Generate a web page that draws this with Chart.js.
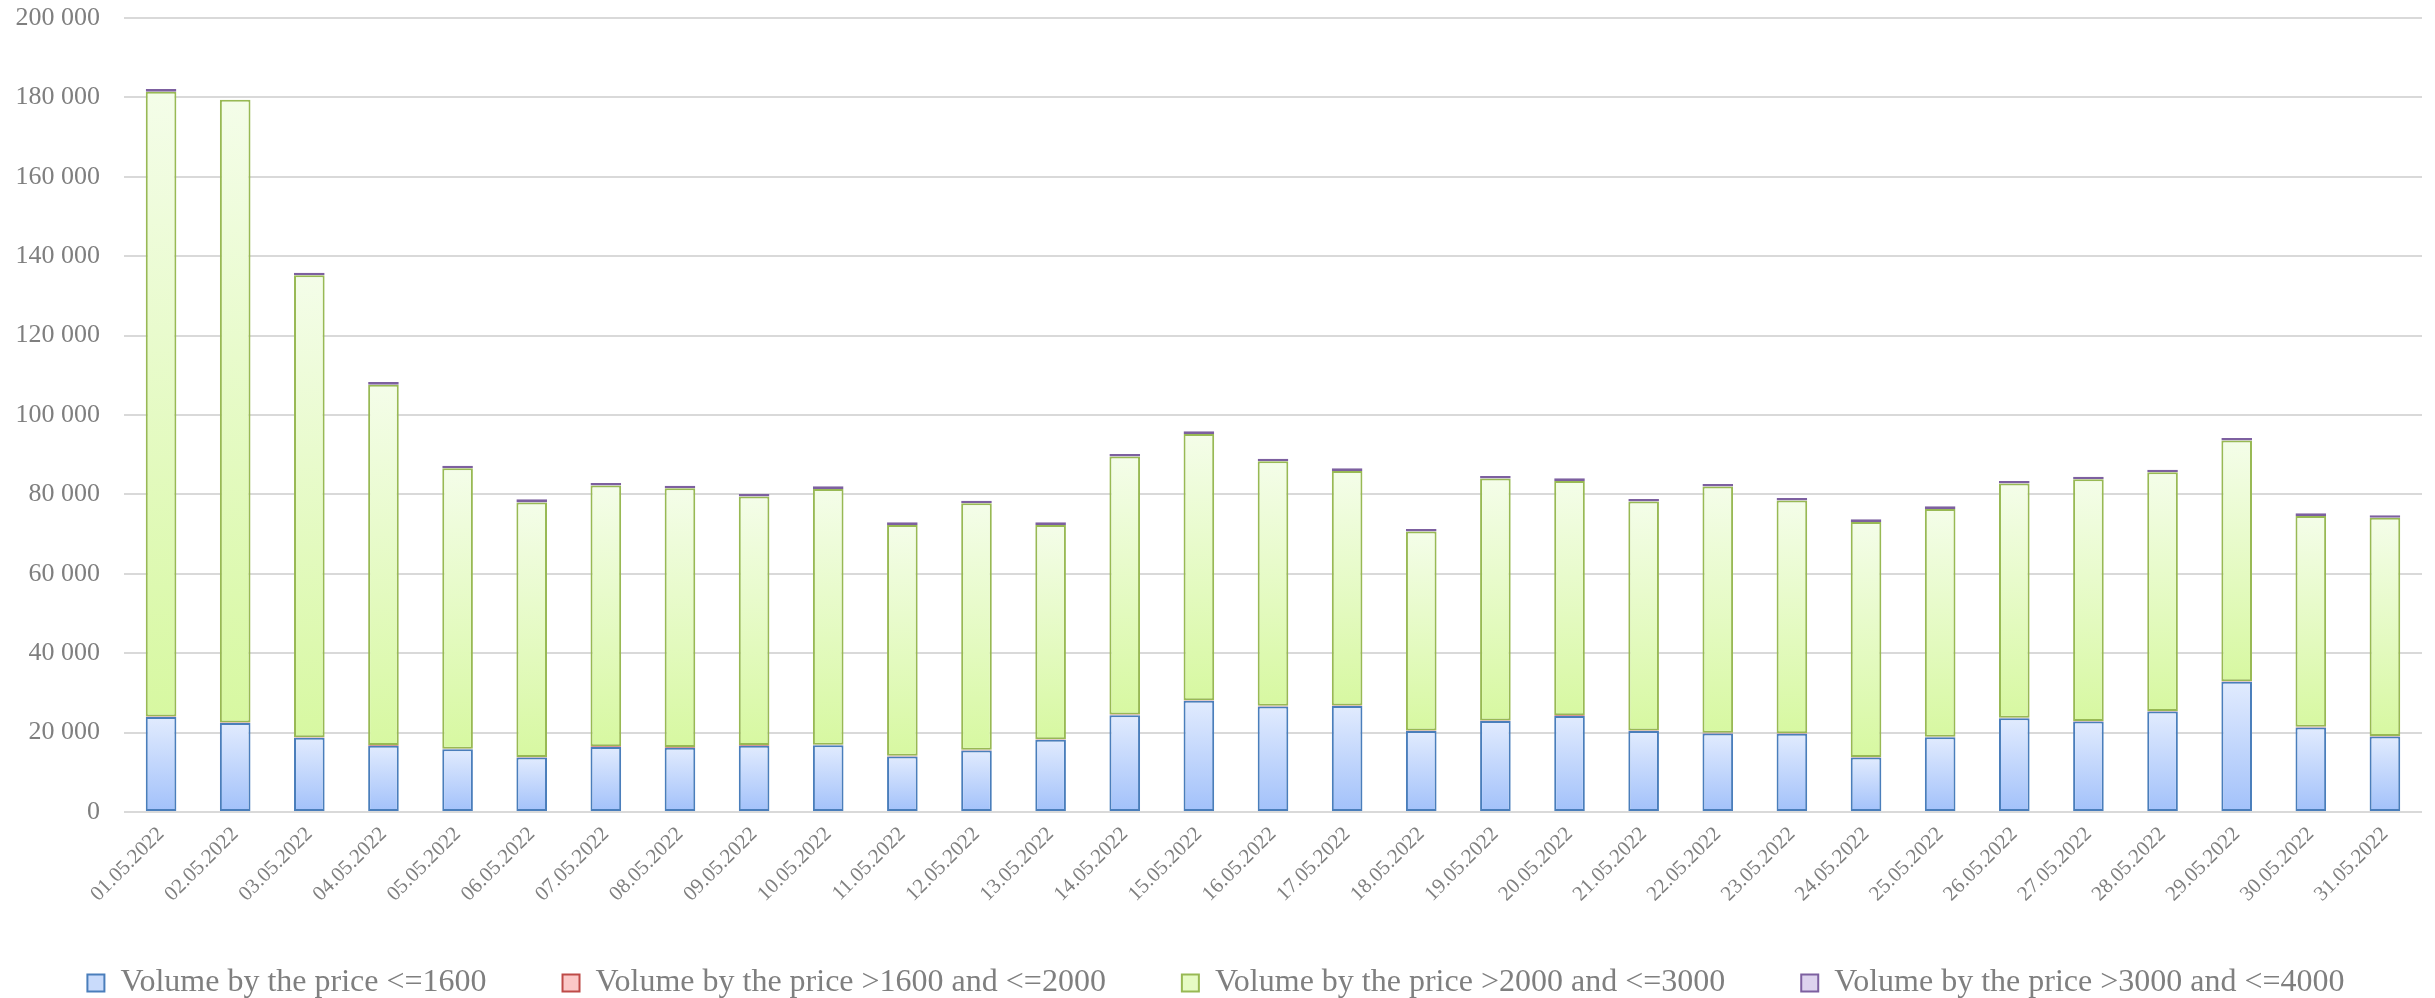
<!DOCTYPE html>
<html>
<head>
<meta charset="utf-8">
<script src="https://cdn.jsdelivr.net/npm/chart.js@4"></script>
<style>
  body { margin: 0; background: #fff; }
</style>
</head>
<body>
<canvas id="volumeChart" width="2435" height="998"></canvas>
<script>
const dates = [
  "01.05.2022", "02.05.2022", "03.05.2022", "04.05.2022", "05.05.2022", "06.05.2022",
  "07.05.2022", "08.05.2022", "09.05.2022", "10.05.2022", "11.05.2022", "12.05.2022",
  "13.05.2022", "14.05.2022", "15.05.2022", "16.05.2022", "17.05.2022", "18.05.2022",
  "19.05.2022", "20.05.2022", "21.05.2022", "22.05.2022", "23.05.2022", "24.05.2022",
  "25.05.2022", "26.05.2022", "27.05.2022", "28.05.2022", "29.05.2022", "30.05.2022",
  "31.05.2022"
];

const upTo1600 = [
  23900, 22400, 18700, 16700, 15800, 13700, 16400, 16200, 16700, 16800, 14000,
  15500, 18200, 24400, 28000, 26600, 26700, 20400, 22900, 24200, 20400, 19800,
  19700, 13700, 18800, 23600, 22800, 25300, 32800, 21300, 19000
];

const from1600to2000 = [
  150, 150, 150, 150, 150, 150, 150, 150, 150, 150, 150,
  150, 150, 150, 150, 150, 150, 150, 150, 150, 150, 150,
  150, 150, 150, 150, 150, 150, 150, 150, 150
];

const from2000to3000 = [
  157400, 156850, 116350, 90800, 70640, 64110, 65680, 65200, 62600, 64440, 58170,
  62120, 53970, 64980, 67090, 61600, 59070, 50090, 60940, 59050, 57650, 62020,
  58600, 59220, 57400, 58980, 60870, 60130, 60610, 53140, 54940
];

const from3000to4000 = [
  650, 0, 650, 650, 650, 800, 650, 650, 650, 650, 650,
  650, 650, 650, 650, 650, 650, 650, 650, 650, 650, 650,
  650, 650, 650, 650, 650, 650, 650, 650, 650
];

const seriesNames = [
  "Volume by the price <=1600",
  "Volume by the price >1600 and <=2000",
  "Volume by the price >2000 and <=3000",
  "Volume by the price >3000 and <=4000"
];

const TEXT = "#7f7f7f";
const FONT = "'Liberation Serif', 'Times New Roman', serif";

// gradient per stacked segment, light on top, darker at the base
function segmentFill(topColor, bottomColor) {
  return (c) => {
    const chart = c.chart;
    const y = chart.scales.y;
    if (c.type !== "data" || !chart.chartArea || !y) return bottomColor;
    const i = c.dataIndex;
    let base = 0;
    for (let d = 0; d < c.datasetIndex; d++) base += chart.data.datasets[d].data[i];
    const top = base + chart.data.datasets[c.datasetIndex].data[i];
    const y0 = y.getPixelForValue(top);
    const y1 = y.getPixelForValue(base);
    if (y1 - y0 < 3) return bottomColor;
    const g = chart.ctx.createLinearGradient(0, y0, 0, y1);
    g.addColorStop(0, topColor);
    g.addColorStop(1, bottomColor);
    return g;
  };
}

const legendFill = ["#c9dbfb", "#fbc8c7", "#e6fbc4", "#ddd3ee"];
const borders = ["#4a7ebb", "#be4b48", "#98b954", "#7d60a0"];

function bar(label, data, fill, border) {
  return {
    label: label,
    data: data,
    backgroundColor: fill,
    borderColor: border,
    borderWidth: 2,
    borderSkipped: false,
    categoryPercentage: 1,
    barPercentage: 0.413
  };
}

const ctx = document.getElementById("volumeChart").getContext("2d");
const volumeChart = new Chart(ctx, {
  type: "bar",
  data: {
    labels: dates,
    datasets: [
      bar(seriesNames[0], upTo1600, segmentFill("#e1ebfe", "#a2c1fa"), borders[0]),
      bar(seriesNames[1], from1600to2000, segmentFill("#fde0df", "#f7a9a7"), borders[1]),
      bar(seriesNames[2], from2000to3000, segmentFill("#f4fde9", "#d7f8a1"), borders[2]),
      bar(seriesNames[3], from3000to4000, segmentFill("#e6def2", "#c6b6de"), borders[3])
    ]
  },
  options: {
    responsive: false,
    animation: false,
    layout: {
      padding: { left: 10, right: 13, top: 18, bottom: -11 }
    },
    plugins: {
      tooltip: { enabled: false },
      legend: {
        position: "bottom",
        labels: {
          color: TEXT,
          font: { family: FONT, size: 32 },
          boxWidth: 17,
          boxHeight: 17,
          padding: 76,
          generateLabels: (chart) =>
            chart.data.datasets.map((ds, i) => ({
              text: ds.label,
              fillStyle: legendFill[i],
              strokeStyle: borders[i],
              lineWidth: 2,
              fontColor: TEXT,
              hidden: false,
              datasetIndex: i
            }))
        }
      }
    },
    scales: {
      x: {
        stacked: true,
        grid: { display: false, drawTicks: false },
        border: { display: false },
        ticks: {
          color: TEXT,
          font: { family: FONT, size: 21 },
          minRotation: 45,
          maxRotation: 45,
          autoSkip: false,
          padding: 10
        },
        afterFit: (s) => {
          s.height = 79;
          // rotated dates run below the axis box, don't clip them
          s._computeLabelArea = () => undefined;
        }
      },
      y: {
        stacked: true,
        min: 0,
        max: 200000,
        grid: { color: "#d9d9d9", lineWidth: 2, drawTicks: true, tickLength: 24, tickColor: "rgba(0,0,0,0)" },
        border: { display: false },
        ticks: {
          stepSize: 20000,
          color: TEXT,
          font: { family: FONT, size: 26 },
          padding: 0,
          callback: (v) => String(v).replace(/\B(?=(\d{3})+(?!\d))/g, " ")
        },
        afterFit: (s) => { s.width = 114; }
      }
    }
  }
});
</script>
</body>
</html>
